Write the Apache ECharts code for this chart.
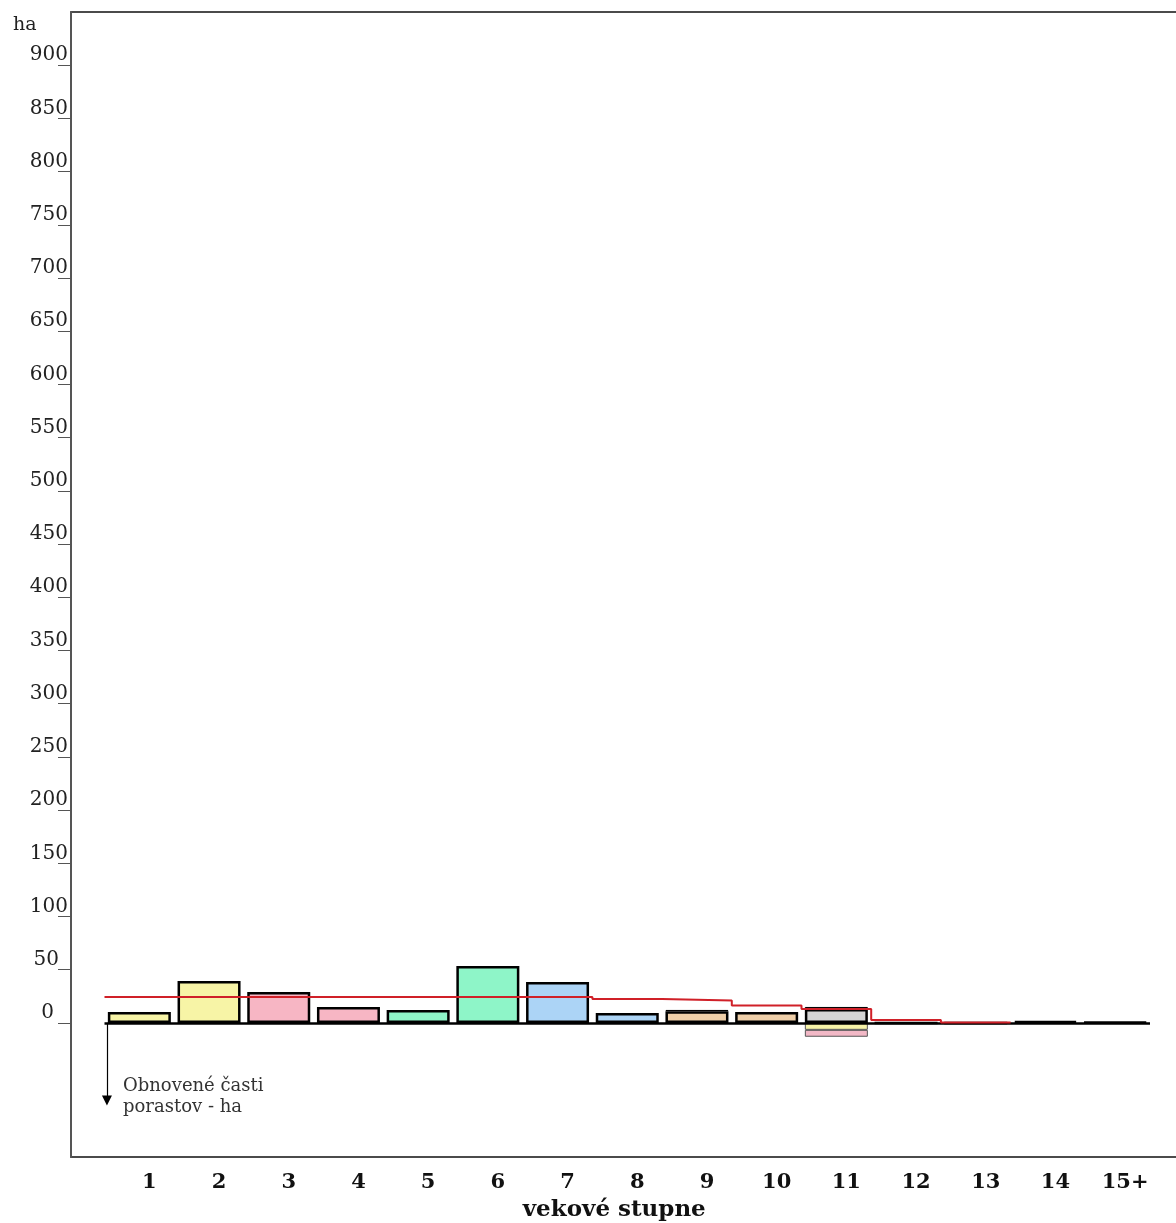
<!DOCTYPE html>
<html>
<head>
<meta charset="utf-8">
<script src="https://cdn.jsdelivr.net/npm/echarts@6.0.0/dist/echarts.min.js"></script>
<style>
html,body{margin:0;padding:0;background:#fff;}
#chart{width:1176px;height:1223px;}
</style>
</head>
<body>
<div id="chart"></div>
<script>
// ---- data ----
var categories = ['1','2','3','4','5','6','7','8','9','10','11','12','13','14','15+'];
var areaMain   = [10.3, 39.5, 29.1, 15, 12.2, 53.5, 38.5, 9.4, 11, 10.3, 13, 0, 0, 1.5, 0.7];
var areaTop    = [null, null, null, null, null, null, null, null, 1.2, null, 2, null, null, null, null];
var renewedA   = [null, null, null, null, null, null, null, null, null, null, -6.5, null, null, null, null];
var renewedB   = [null, null, null, null, null, null, null, null, null, null, -6.5, null, null, null, null];
var normalArea = [24.4, 24.4, 24.4, 24.4, 24.4, 24.4, 24.4, 22.5, 21, 16.3, 13, 2.8, 0.3];
var yTicks     = [0,50,100,150,200,250,300,350,400,450,500,550,600,650,700,750,800,850,900];
var yMin = -126, yMax = 950;

// ---- styles ----
var barColors = ['#f7f4a6','#f7f4a6','#f7b6c4','#f7b6c4','#8ef5c8','#8ef5c8','#acd4f6','#acd4f6',
                 '#efcfa9','#efcfa9','#d4d4d4','#d4d4d4','#d4d4d4','#000000','#000000'];
var serif = 'DejaVu Serif';

var chart = echarts.init(document.getElementById('chart'));

var linePts = normalArea.map(function(v,i){ return [i, v]; });
linePts.push([normalArea.length, normalArea[normalArea.length-1]]);

var option = {
  backgroundColor: '#fff',
  animation: false,
  grid: [
    {left: 104.5, right: 26, top: 12, bottom: 66, containLabel: false, outerBoundsMode: 'none'},
    {left: 71, width: 10, top: 12, bottom: 66, containLabel: false, outerBoundsMode: 'none'}
  ],
  graphic: [
    {type:'rect', z: 0, shape:{x:71, y:12, width:1200, height:1145},
     style:{fill:'none', stroke:'#111', lineWidth:1.5}},
    {type:'text', left: 13, top: 16,
     style:{text:'ha', fontFamily:serif, fontSize:19, fill:'#222'}},
    {type:'text', left: 123, top: 1076,
     style:{text:'Obnovené časti\nporastov - ha', fontFamily:serif, fontSize:18,
            lineHeight:21, fill:'#333'}}
  ],
  xAxis: [
    {type:'category', data: categories, gridIndex:0,
     axisLine:{show:false, onZero:false}, axisTick:{show:false},
     axisLabel:{margin:15, fontFamily:serif, fontWeight:'bold', fontSize:21,
                color:'#111', padding:[0,0,0,20]},
     name:'vekové stupne', nameLocation:'middle', nameGap:42,
     nameTextStyle:{fontFamily:serif, fontWeight:'bold', fontSize:23, color:'#111',
                    padding:[0,26,0,0]}},
    {type:'value', min:0, max:categories.length, show:false, gridIndex:0},
    {type:'value', min:0, max:1, show:false, gridIndex:1}
  ],
  yAxis: [
    {type:'value', min:yMin, max:yMax, gridIndex:0, show:false, splitLine:{show:false}},
    {type:'value', min:yMin, max:yMax, gridIndex:1,
     splitLine:{show:false},
     axisLine:{show:true, onZero:false, lineStyle:{color:'#555', width:2}},
     axisTick:{show:true, customValues: yTicks, length:13, lineStyle:{color:'#555', width:1}},
     axisLabel:{customValues: yTicks, margin:3, verticalAlign:'bottom',
                fontFamily:serif, fontSize:20, color:'#222',
                formatter:function(v){
                  if (v === 0) return '{z|0}';
                  if (v === 50) return '{f|50}';
                  return String(v);
                },
                rich:{
                  z:{padding:[0,14,0,0], fontFamily:serif, fontSize:20, color:'#222'},
                  f:{padding:[0,9,0,0], fontFamily:serif, fontSize:20, color:'#222'}
                }}}
  ],
  series: [
    {type:'bar', name:'plocha', stack:'a', barWidth:63, xAxisIndex:0, yAxisIndex:0,
     data: areaMain.map(function(v,i){ return {value:v, itemStyle:{color:barColors[i]}}; }),
     itemStyle:{borderColor:'#000', borderWidth:2.5},
     markLine:{silent:true, symbol:['none','none'], label:{show:false},
               lineStyle:{color:'#000', width:2.5, type:'solid'},
               data:[{yAxis:0}]}},
    {type:'bar', name:'horná', stack:'a', xAxisIndex:0, yAxisIndex:0,
     data: areaTop,
     itemStyle:{color:'#000', borderColor:'#000', borderWidth:1}},
    {type:'bar', name:'obnovené 1', stack:'a', xAxisIndex:0, yAxisIndex:0,
     data: renewedA,
     itemStyle:{color:'#f7f4a9', borderColor:'#555', borderWidth:1}},
    {type:'bar', name:'obnovené 2', stack:'a', xAxisIndex:0, yAxisIndex:0,
     data: renewedB,
     itemStyle:{color:'#f2b8c6', borderColor:'#555', borderWidth:1}},
    {type:'line', name:'normála', xAxisIndex:1, yAxisIndex:0, step:'end', showSymbol:false, symbol:'none',
     data: linePts, z:5,
     lineStyle:{color:'#d02028', width:2},
     markLine:{silent:true, symbol:['none','triangle'], symbolSize:[10,10], label:{show:false},
               lineStyle:{color:'#000', width:1.2, type:'solid'},
               data:[[{coord:[0.035,0]},{coord:[0.035,-73]}]]}}
  ]
};
chart.setOption(option);
</script>
</body>
</html>
